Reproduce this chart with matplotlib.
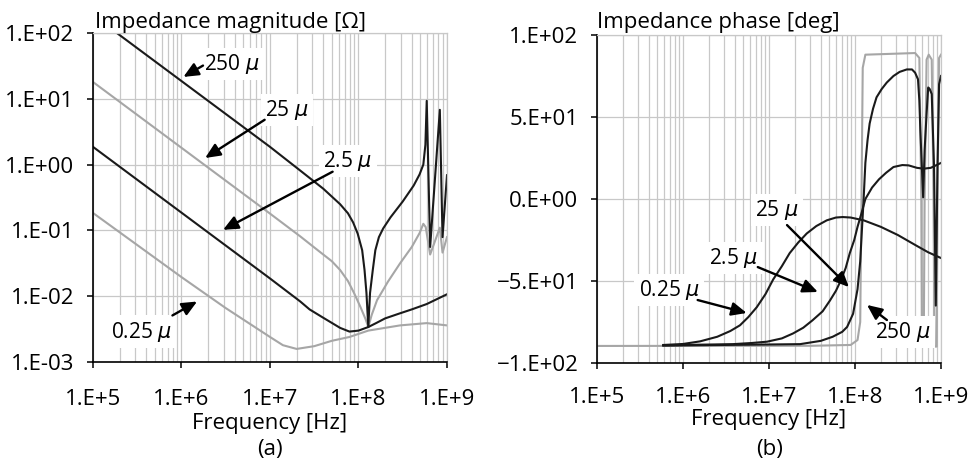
import matplotlib
matplotlib.use("Agg")
import matplotlib.pyplot as plt
from matplotlib.ticker import FixedLocator, FixedFormatter, LogLocator, NullLocator

plt.rcParams['font.family'] = ['Open Sans', 'DejaVu Sans']
plt.rcParams['mathtext.fontset'] = 'dejavusans'

W, H = 973, 459
FS = 16      # ticks, titles, axis labels
FS_ANN = 15  # curve labels

# ---- axis ticks ----
freq_ticks = [1e5, 1e6, 1e7, 1e8, 1e9]
freq_labels = ['1.E+5', '1.E+6', '1.E+7', '1.E+8', '1.E+9']
mag_ticks = [1e-3, 1e-2, 1e-1, 1e0, 1e1, 1e2]
mag_labels = ['1.E-03', '1.E-02', '1.E-01', '1.E+00', '1.E+01', '1.E+02']
phase_ticks = [-100, -50, 0, 50, 100]
phase_labels = ['\u22121.E+02', '\u22125.E+01', '0.E+00', '5.E+01', '1.E+02']

# ---- (a) impedance magnitude [ohm] ----
f_mag_250 = [1.86e5, 1e6, 1e7, 2.2e7, 4e7, 6.2e7, 7.6e7, 8.7e7, 9.8e7, 1.1e8,
             1.17e8, 1.23e8, 1.29e8, 1.35e8, 1.45e8, 1.55e8, 1.7e8, 1.9e8,
             2.3e8, 3.16e8, 4.2e8, 4.9e8, 5.4e8, 5.7e8, 5.9e8, 6.45e8, 8.3e8,
             8.9e8, 1e9]
z_mag_250 = [100, 18.6, 1.86, 0.81, 0.43, 0.25, 0.182, 0.132, 0.089, 0.05,
             0.025, 0.0112, 0.0034, 0.0112, 0.025, 0.05, 0.079, 0.107,
             0.158, 0.275, 0.48, 0.71, 1.0, 2.0, 9.3, 0.056, 6.8,
             0.079, 0.69]

f_mag_25 = [1e5, 1e6, 1e7, 2.2e7, 3.6e7, 5e7, 6.2e7, 7.6e7, 8.9e7, 1.05e8,
            1.2e8, 1.29e8, 1.41e8, 1.62e8, 2.15e8, 2.95e8, 4e8, 4.9e8, 5.4e8,
            5.75e8, 6.45e8, 8.3e8, 8.9e8, 1e9]
z_mag_25 = [18, 1.8, 0.18, 0.081, 0.048, 0.034, 0.025, 0.017, 0.0112, 0.0069,
            0.0045, 0.0034, 0.0052, 0.0087, 0.0166, 0.0316, 0.056, 0.091, 0.126,
            0.112, 0.043, 0.11, 0.046, 0.079]

f_mag_2p5 = [1e5, 1e6, 1e7, 2.2e7, 2.8e7, 4e7, 6.2e7, 7.9e7, 1e8, 1.29e8,
             1.58e8, 2e8, 2.95e8, 4e8, 5.9e8, 1e9]
z_mag_2p5 = [1.86, 0.186, 0.0186, 0.0083, 0.0063, 0.0047, 0.0033, 0.0029,
             0.0030, 0.0034, 0.0039, 0.0046, 0.0055, 0.0063, 0.0076, 0.0107]

f_mag_0p25 = [1e5, 1e6, 3.16e6, 1e7, 1.4e7, 2e7, 3.16e7, 5e7, 7.9e7, 1.29e8,
              2.95e8, 5.9e8, 1e9]
z_mag_0p25 = [0.184, 0.0195, 0.0066, 0.0024, 0.0018, 0.00158, 0.00174, 0.0021,
              0.0024, 0.003, 0.0036, 0.0039, 0.0036]

# ---- (b) impedance phase [deg] ----
f_ph_0p25 = [5.9e5, 1e6, 1.58e6, 2.5e6, 3.55e6, 4.6e6, 5.75e6, 7.2e6, 9.1e6,
             1.12e7, 1.41e7, 1.74e7, 2.19e7, 2.75e7, 3.55e7, 4.7e7, 6.0e7,
             7.2e7, 8.9e7, 1.26e8, 2e8, 3.16e8, 5e8, 7.1e8, 1e9]
p_ph_0p25 = [-89, -88.4, -86.8, -84, -80.5, -77, -72, -66, -58,
             -49, -41, -33, -26.5, -21, -16.5, -13, -11.3,
             -11, -11.3, -13, -17, -22, -28, -32.5, -36]

f_ph_2p5 = [5.9e5, 3.8e6, 6.3e6, 9.5e6, 1.41e7, 1.9e7, 2.5e7, 3.2e7, 4.2e7,
            5.1e7, 6.0e7, 6.8e7, 7.8e7, 8.7e7, 9.8e7, 1.07e8, 1.2e8, 1.32e8,
            1.58e8, 1.9e8, 2.3e8, 2.8e8, 3.55e8, 4.2e8, 5.25e8, 6.3e8, 7.6e8,
            1e9]
p_ph_2p5 = [-89.2, -88.5, -87.8, -87, -85, -82, -78.5, -74, -68.5,
            -62, -56, -50, -42, -33, -25, -17, -8, 0,
            7, 12, 16, 19.5, 20.7, 20.5, 19, 18.5, 19,
            22]

f_ph_25 = [5.9e5, 2.3e7, 4e7, 5.5e7, 7.1e7, 8.1e7, 9.5e7, 1.07e8, 1.15e8,
           1.2e8, 1.26e8, 1.32e8, 1.4e8, 1.48e8, 1.62e8, 1.78e8, 2.04e8,
           2.34e8, 2.8e8, 3.3e8, 4e8, 4.6e8, 5e8, 5.4e8, 5.6e8, 5.75e8,
           6.2e8, 6.45e8, 6.8e8, 7.1e8, 7.4e8, 7.8e8, 8.3e8, 8.7e8, 9.1e8,
           9.5e8, 1e9]
p_ph_25 = [-89.4, -88.5, -86.5, -84, -81, -78, -70, -55, -38,
           -20, 0, 22, 36, 46, 55, 62, 67,
           71, 75, 77.5, 79, 79, 77, 73, 60, 42,
           1, 30, 52, 68, 67, 64, 20, -65, 20,
           70, 75]

f_ph_250 = [1e5, 3.16e7, 8.9e7, 1.07e8, 1.15e8, 1.19e8, 1.23e8, 1.32e8, 5e8,
            5.6e8, 5.9e8, 6.0e8, 6.3e8, 6.45e8, 6.8e8, 7.2e8, 7.8e8, 8.2e8,
            8.4e8, 8.9e8, 9.1e8, 9.5e8, 1e9]
p_ph_250 = [-89.6, -89.5, -89, -86, -75, 0, 80, 88, 89,
            86, 0, -90, -90, 0, 85, 88, 85, 0,
            -90, -90, 0, 86, 88]

BLACK = '#1a1a1a'
GRAY = '#a6a6a6'
GRID = '#c8c8c8'


def px(x, y):
    return x / W, 1 - y / H


def style_axes(ax, yticks, ylabels, xpad):
    ax.set_xscale('log')
    ax.set_xlim(1e5, 1e9)
    ax.xaxis.set_major_locator(FixedLocator(freq_ticks))
    ax.xaxis.set_major_formatter(FixedFormatter(freq_labels))
    ax.xaxis.set_minor_locator(LogLocator(base=10, subs=range(2, 10), numticks=20))
    ax.yaxis.set_major_locator(FixedLocator(yticks))
    ax.yaxis.set_major_formatter(FixedFormatter(ylabels))
    ax.yaxis.set_minor_locator(NullLocator())
    ax.grid(True, which='major', color=GRID, lw=0.9)
    ax.grid(True, which='minor', axis='x', color=GRID, lw=0.9)
    ax.set_axisbelow(True)
    ax.tick_params(which='major', direction='out', length=4.5, width=1.1,
                   color='black', labelsize=FS)
    ax.tick_params(axis='x', which='major', pad=xpad)
    ax.tick_params(axis='y', which='major', pad=9)
    ax.tick_params(which='minor', length=0)
    for s in ('top', 'right'):
        ax.spines[s].set_color(GRID)
        ax.spines[s].set_linewidth(0.9)
    for s in ('left', 'bottom'):
        ax.spines[s].set_color('black')
        ax.spines[s].set_linewidth(1.2)


def label(ax, text, xy_text, xy_tail, xy_tip):
    ax.text(xy_text[0], xy_text[1], text, ha='center', va='center', fontsize=FS_ANN,
            zorder=5, bbox=dict(facecolor='white', edgecolor='none', pad=3))
    ax.annotate('', xy=xy_tip, xytext=xy_tail,
                arrowprops=dict(arrowstyle='-|>,head_length=1.0,head_width=0.45',
                                color='black', lw=1.7, mutation_scale=9,
                                shrinkA=0, shrinkB=0), zorder=6)


fig = plt.figure(figsize=(W / 100, H / 100), dpi=100)

# ---------------- (a) ----------------
ax1 = fig.add_axes([93 / W, 1 - 362 / H, 354 / W, 329 / H])
ax1.set_yscale('log')
ax1.plot(f_mag_25, z_mag_25, color=GRAY, lw=1.5)
ax1.plot(f_mag_0p25, z_mag_0p25, color=GRAY, lw=1.5)
ax1.plot(f_mag_250, z_mag_250, color=BLACK, lw=1.5)
ax1.plot(f_mag_2p5, z_mag_2p5, color=BLACK, lw=1.5)
style_axes(ax1, mag_ticks, mag_labels, xpad=15)
ax1.set_ylim(1e-3, 1e2)

label(ax1, '250 $\\mu$', (3.7e6, 34), (1.75e6, 32), (1.05e6, 21.5))
label(ax1, '25 $\\mu$', (1.55e7, 6.7), (8.7e6, 4.8), (1.85e6, 1.26))
label(ax1, '2.5 $\\mu$', (7.6e7, 1.13), (5.1e7, 0.78), (2.95e6, 0.102))
label(ax1, '0.25 $\\mu$', (3.5e5, 0.0029), (7.9e5, 0.0051), (1.5e6, 0.0083))

fig.text(*px(95, 28), 'Impedance magnitude [\u03a9]', fontsize=FS, va='baseline')
fig.text(*px(270, 423), 'Frequency [Hz]', fontsize=FS, ha='center', va='center')
fig.text(*px(270, 450), '(a)', fontsize=FS, ha='center', va='center')

# ---------------- (b) ----------------
ax2 = fig.add_axes([597 / W, 1 - 363 / H, 344 / W, 328 / H])
ax2.plot(f_ph_250, p_ph_250, color=GRAY, lw=1.5)
ax2.plot(f_ph_0p25, p_ph_0p25, color=BLACK, lw=1.5)
ax2.plot(f_ph_2p5, p_ph_2p5, color=BLACK, lw=1.5)
ax2.plot(f_ph_25, p_ph_25, color=BLACK, lw=1.5)
style_axes(ax2, phase_ticks, phase_labels, xpad=13)
ax2.set_ylim(-100, 100)

label(ax2, '25 $\\mu$', (1.23e7, -6.7), (1.62e7, -15.9), (8.5e7, -53.7))
label(ax2, '2.5 $\\mu$', (3.9e6, -36), (7.4e6, -41.5), (3.7e7, -56.7))
label(ax2, '0.25 $\\mu$', (6.9e5, -55.5), (1.48e6, -61.6), (5.5e6, -69.5))
label(ax2, '250 $\\mu$', (3.6e8, -81), (2.35e8, -73.8), (1.38e8, -64.6))

fig.text(*px(597, 28), 'Impedance phase [deg]', fontsize=FS, va='baseline')
fig.text(*px(769, 420), 'Frequency [Hz]', fontsize=FS, ha='center', va='center')
fig.text(*px(770, 449), '(b)', fontsize=FS, ha='center', va='center')

fig.savefig('out.png', dpi=100)
